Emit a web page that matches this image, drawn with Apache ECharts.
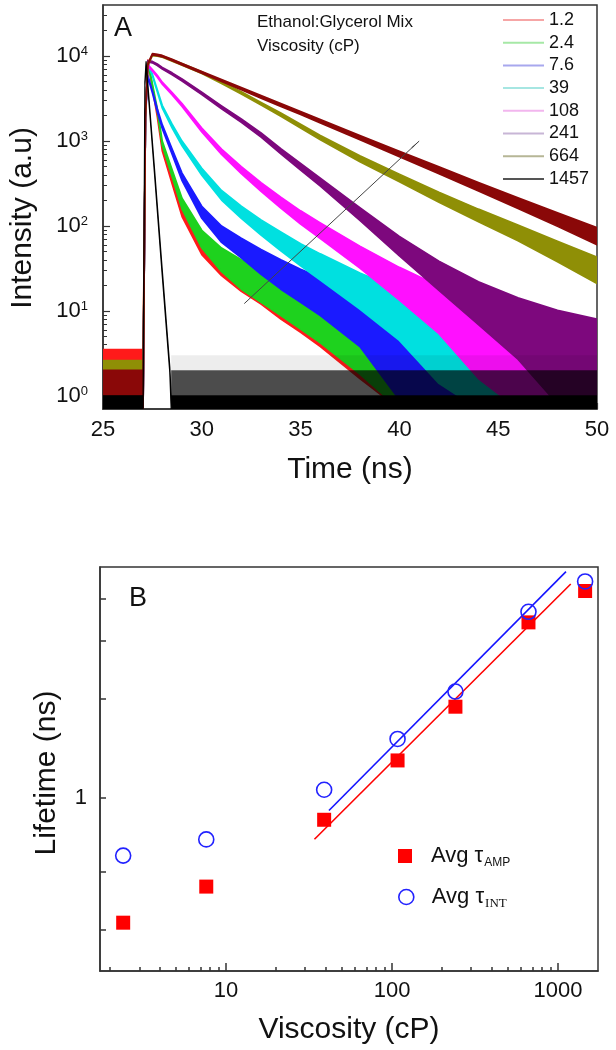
<!DOCTYPE html>
<html><head><meta charset="utf-8">
<script src="https://cdn.jsdelivr.net/npm/echarts@6/dist/echarts.min.js"></script>
<style>html,body{margin:0;padding:0;background:#fff}#c{width:616px;height:1050px}</style>
</head><body><div id="c"></div>
<script>
const FONT = '"Liberation Sans", Arial, sans-serif';

// ---------- Panel A: fluorescence decays (band = visible noise envelope, low/high) ----------
const timeNs = [25, 27.03, 27.15, 27.27, 27.5, 27.75, 28, 28.5, 29, 30, 31, 32, 33, 34, 35, 36, 38, 40, 42, 44, 46, 48, 50];
const viscosityLabels = ['1.2', '2.4', '7.6', '39', '108', '241', '664', '1457'];

const low_1_2  = [0.7, 0.7, 1910, 8610, 4170, 1910, 763, 313, 129, 46, 26, 17, 12, 8, 5.6, 3.8, 1.6, 0.7, 0.7, 0.7, 0.7, 0.7, 0.7];
const high_1_2 = [3.5, 3.5, 2090, 8990, 4430, 2090, 877, 387, 179, 78, 50, 37, 30, 24, 20, 16.6, 12, 8.4, 6.1, 4.7, 4.1, 4, 4];
const low_2_4  = [0.7, 0.7, 1910, 8320, 4460, 2200, 880, 380, 158, 55, 29, 18, 12.6, 8.8, 6.1, 4.2, 1.8, 0.7, 0.7, 0.7, 0.7, 0.7, 0.7];
const high_2_4 = [1.5, 1.5, 2090, 8680, 4740, 2400, 1000, 460, 212, 89, 55, 40, 31, 25, 20.7, 17.2, 12.4, 8.7, 6.3, 4.8, 4.3, 4, 4];
const low_7_6  = [0.7, 0.7, 1910, 5650, 3680, 2200, 1400, 695, 342, 123, 64, 42, 27, 18, 12.6, 8.8, 3.8, 0.9, 0.7, 0.7, 0.7, 0.7, 0.7];
const high_7_6 = [1.5, 1.5, 2090, 5950, 3920, 2400, 1560, 805, 420, 171, 100, 72, 53, 40, 31, 25, 16.6, 10.5, 6.8, 4.8, 4.3, 4, 4];
const low_39   = [0.7, 0.7, 1910, 7820, 5850, 3780, 2440, 1420, 880, 395, 202, 123, 78, 51, 34, 23, 10.5, 4.5, 1.4, 0.7, 0.7, 0.7, 0.7];
const high_39  = [1.5, 1.5, 2090, 8180, 6150, 4020, 2640, 1580, 1000, 479, 262, 171, 118, 85, 62, 47, 28, 17.9, 11.6, 7.7, 5.5, 4.5, 4.3];
const low_108  = [0.7, 0.7, 1910, 7620, 6640, 5650, 4660, 3480, 2560, 1280, 695, 414, 256, 162, 105, 71, 32, 13.4, 5.4, 1.6, 0.7, 0.7, 0.7];
const high_108 = [1.5, 1.5, 2090, 7980, 6960, 5950, 4940, 3720, 2760, 1420, 805, 500, 324, 218, 151, 109, 58, 32.6, 19.6, 12, 8, 5.8, 4.8];
const low_241  = [0.7, 0.7, 1910, 8510, 8320, 7720, 7030, 6040, 5100, 3530, 2400, 1660, 1110, 705, 455, 294, 116, 44.5, 17.4, 6.9, 2.7, 0.8, 0.7];
const high_241 = [1.5, 1.5, 2090, 8890, 8680, 8080, 7370, 6360, 5400, 3770, 2600, 1820, 1250, 815, 545, 366, 164, 75.5, 38.6, 22.1, 14.3, 10.2, 8];
const low_664  = [0.7, 0.7, 1910, 7820, 10100, 10000, 9700, 8710, 7820, 6240, 4760, 3580, 2650, 1960, 1420, 1034, 570, 332, 190, 112, 67, 38, 21];
const high_664 = [2.6, 2.6, 2090, 8180, 10500, 10400, 10100, 9090, 8180, 6560, 5040, 3820, 2850, 2140, 1580, 1166, 670, 408, 250, 158, 103, 66, 43];
const low_1457 = [0.7, 0.7, 1910, 7820, 10300, 10100, 9800, 8810, 7840, 6270, 5020, 4010, 3200, 2560, 2050, 1630, 1034, 654, 412, 258, 161, 99, 60];
const high_1457= [2, 2, 2090, 8180, 10700, 10500, 10200, 9190, 8200, 6590, 5300, 4270, 3440, 2760, 2230, 1790, 1166, 760, 498, 326, 215, 143, 96];

// instrument response (black)
const irfTime = [25, 27.03, 27.12, 27.18, 27.6, 28.0, 28.38, 28.45, 50];
const irfHigh = [1, 1, 5000, 8600, 490, 30, 2.2, 1, 1];
const irfLow  = [0.7, 0.7, 4500, 7800, 430, 26, 1.9, 0.7, 0.7];
// IRF background noise bands (dense 1-2 counts, sparse 2-3 counts)
const floorTime = [28.45, 50];
const floorLow  = [1, 1];
const floorHigh = [2, 2];
const sparseLow  = [2, 2];
const sparseHigh = [3, 3];

// arrow (direction of increasing viscosity)
const arrowTime = [32.15, 41.0];
const arrowCounts = [12.2, 1000];

const yTicksA = [1, 10, 100, 1000, 10000];
const yMinorA = [0.8, 0.9, 2, 3, 4, 5, 6, 7, 8, 9, 20, 30, 40, 50, 60, 70, 80, 90, 200, 300, 400, 500, 600, 700, 800, 900,
                 2000, 3000, 4000, 5000, 6000, 7000, 8000, 9000, 20000, 30000];

// ---------- Panel B: lifetime vs viscosity ----------
const viscosityCP = [2.4, 7.6, 39, 108, 241, 664, 1457];
const tauAmp = [0.42, 0.54, 0.86, 1.30, 1.89, 3.40, 4.23];
const tauInt = [0.67, 0.75, 1.06, 1.51, 2.10, 3.66, 4.52];
const fitAmpX = [34.1, 1194];
const fitAmpY = [0.751, 4.44];
const fitIntX = [41.7, 1117];
const fitIntY = [0.917, 4.84];
const xTicksB = [10, 100, 1000];
const xMinorB = [2, 3, 4, 5, 6, 7, 8, 9, 20, 30, 40, 50, 60, 70, 80, 90, 200, 300, 400, 500, 600, 700, 800, 900];
const yTicksB = [0.4, 0.6, 1, 2, 3, 4];
const yLabelsB = [1];

// ---------- styles ----------
const curveColors = ['#ff1a1a', '#1ed21e', '#1a1aff', '#00e0e0', '#ff10ff', '#7d087d', '#8f8f06', '#8a0808'];
const legendColors = ['#f6a6a6', '#a6e8a6', '#a8a8ee', '#a6e6e2', '#f2b6ee', '#c8b6d6', '#b6b696', '#555555'];
const lows = [low_1_2, low_2_4, low_7_6, low_39, low_108, low_241, low_664, low_1457];
const highs = [high_1_2, high_2_4, high_7_6, high_39, high_108, high_241, high_664, high_1457];

function bandSeries(name, xs, lo, hi, color, lw, z) {
  return {
    type: 'custom', name: name, xAxisIndex: 0, yAxisIndex: 0, clip: true, z: z || 2,
    silent: true,
    itemStyle: { color: color },
    data: xs.map((t, i) => [t, lo[i], hi[i]]),
    encode: { x: 0, y: [1, 2] },
    renderItem: function (params, api) {
      if (params.dataIndexInside !== 0) return null;
      const n = params.dataInsideLength;
      const top = [], bot = [];
      for (let j = 0; j < n; j++) {
        top.push(api.coord([api.value(0, j), api.value(2, j)]));
        bot.push(api.coord([api.value(0, j), api.value(1, j)]));
      }
      return {
        type: 'polygon',
        shape: { points: top.concat(bot.reverse()) },
        style: { fill: color, stroke: lw > 0 ? color : null, lineWidth: lw, lineJoin: 'round' }
      };
    }
  };
}

const series = [];
viscosityLabels.forEach((name, i) => {
  series.push(bandSeries(name, timeNs, lows[i], highs[i], curveColors[i], 1.6));
});
series.push(bandSeries('IRF', irfTime, irfLow, irfHigh, '#000000', 1.2, 3));
series.push(bandSeries('IRF noise', floorTime, floorLow, floorHigh, 'rgba(0,0,0,0.7)', 0, 3));
series.push(bandSeries('IRF sparse noise', floorTime, sparseLow, sparseHigh, 'rgba(0,0,0,0.07)', 0, 3));
series.push({
  type: 'line', name: 'arrow', xAxisIndex: 0, yAxisIndex: 0, data: [], silent: true,
  markLine: {
    silent: true, symbol: ['none', 'arrow'], symbolSize: [1, 11], label: { show: false },
    lineStyle: { color: '#444', width: 1, type: 'solid' },
    data: [[{ coord: [arrowTime[0], arrowCounts[0]] }, { coord: [arrowTime[1], arrowCounts[1]] }]]
  }
});

// Panel B series
series.push({
  type: 'line', name: 'fitAmp', xAxisIndex: 1, yAxisIndex: 2, symbol: 'none', silent: true, z: 2,
  lineStyle: { color: '#ff0000', width: 1.6 },
  data: fitAmpX.map((x, i) => [x, fitAmpY[i]])
});
series.push({
  type: 'line', name: 'fitInt', xAxisIndex: 1, yAxisIndex: 2, symbol: 'none', silent: true, z: 2,
  lineStyle: { color: '#1414ff', width: 1.6 },
  data: fitIntX.map((x, i) => [x, fitIntY[i]])
});
series.push({
  type: 'scatter', name: 'Avg τAMP', xAxisIndex: 1, yAxisIndex: 2, symbol: 'rect', symbolSize: 14, z: 3,
  itemStyle: { color: '#ff0000', opacity: 1 },
  data: viscosityCP.map((x, i) => [x, tauAmp[i]])
});
series.push({
  type: 'scatter', name: 'Avg τINT', xAxisIndex: 1, yAxisIndex: 2, symbol: 'circle', symbolSize: 15, z: 4,
  itemStyle: { color: 'rgba(255,255,255,0)', borderColor: '#2222ff', borderWidth: 1.6, opacity: 1 },
  data: viscosityCP.map((x, i) => [x, tauInt[i]])
});

const axisLineStyle = { show: true, onZero: false, lineStyle: { color: '#333', width: 1.5 } };
const labelBase = { color: '#111', fontFamily: FONT, fontSize: 22 };
const nameBase = { color: '#111', fontFamily: FONT, fontSize: 30 };

const option = {
  animation: false,
  backgroundColor: '#fff',
  textStyle: { fontFamily: FONT },
  grid: [
    { left: 101, top: 5, width: 496, height: 404, show: true, borderColor: '#333', borderWidth: 1.5, backgroundColor: 'transparent' },
    { left: 100, top: 567, width: 498, height: 404, show: true, borderColor: '#333', borderWidth: 1.5, backgroundColor: 'transparent' }
  ],
  xAxis: [
    {
      gridIndex: 0, type: 'value', position: 'bottom', min: 25, max: 50, interval: 5,
      axisLine: axisLineStyle, splitLine: { show: false },
      axisTick: { inside: true, length: 6, lineStyle: { color: '#333', width: 1.2 } },
      axisLabel: Object.assign({ margin: 10 }, labelBase),
      name: 'Time (ns)', nameLocation: 'middle', nameGap: 46, nameTextStyle: nameBase
    },
    {
      gridIndex: 1, type: 'log', position: 'bottom', min: 1.74, max: 1742,
      axisLine: axisLineStyle, splitLine: { show: false }, minorTick: { show: false },
      axisTick: { inside: true, length: 8, customValues: xTicksB, lineStyle: { color: '#333', width: 1.5 } },
      axisLabel: Object.assign({
        margin: 9, customValues: xTicksB, showMinLabel: true, showMaxLabel: true,
        formatter: function (v) { return String(Math.round(v)); }
      }, labelBase),
      name: 'Viscosity (cP)', nameLocation: 'middle', nameGap: 44, nameTextStyle: nameBase
    },
    {
      gridIndex: 1, type: 'log', position: 'bottom', min: 1.74, max: 1742,
      axisLine: { show: false, onZero: false }, splitLine: { show: false },
      axisTick: { inside: true, length: 4, customValues: xMinorB, lineStyle: { color: '#333', width: 1.5 } },
      axisLabel: { show: false }
    }
  ],
  yAxis: [
    {
      gridIndex: 0, type: 'log', position: 'left', min: 0.7, max: 40000,
      axisLine: axisLineStyle, splitLine: { show: false },
      axisTick: { inside: true, length: 7, customValues: yTicksA, lineStyle: { color: '#333', width: 1.2 } },
      axisLabel: Object.assign({
        margin: 15, customValues: yTicksA, showMinLabel: true, showMaxLabel: true, lineHeight: 22,
        formatter: function (v) { return '10{e|' + Math.round(Math.log10(v)) + '}'; },
        rich: { e: { fontSize: 13, lineHeight: 13, verticalAlign: 'top', fontFamily: FONT, color: '#111' } }
      }, labelBase),
      name: 'Intensity (a.u)', nameLocation: 'middle', nameGap: 65,
      nameTextStyle: Object.assign({ padding: [0, 22, 0, 0] }, nameBase)
    },
    {
      gridIndex: 0, type: 'log', position: 'left', min: 0.7, max: 40000,
      axisLine: { show: false, onZero: false }, splitLine: { show: false },
      axisTick: { inside: true, length: 4, customValues: yMinorA, lineStyle: { color: '#333', width: 1 } },
      axisLabel: { show: false }
    },
    {
      gridIndex: 1, type: 'log', position: 'left', min: 0.3, max: 5,
      axisLine: axisLineStyle, splitLine: { show: false },
      axisTick: { inside: true, length: 6, customValues: yTicksB, lineStyle: { color: '#333', width: 1.5 } },
      axisLabel: Object.assign({ margin: 13, customValues: yLabelsB, showMinLabel: true, showMaxLabel: true }, labelBase),
      name: 'Lifetime (ns)', nameLocation: 'middle', nameGap: 38,
      nameTextStyle: Object.assign({ padding: [0, 8, 0, 0] }, nameBase)
    }
  ],
  legend: [
    {
      orient: 'vertical', left: 503, top: 11, padding: 0, itemWidth: 41, itemHeight: 2, itemGap: 4.7,
      icon: 'rect', selectedMode: false,
      textStyle: { fontSize: 18, lineHeight: 18, color: '#111', fontFamily: FONT },
      data: viscosityLabels.map((n, i) => ({ name: n, itemStyle: { color: legendColors[i], borderWidth: 0 } }))
    },
    {
      left: 398, top: 835, padding: 0, itemWidth: 14, itemHeight: 14, selectedMode: false,
      data: [{ name: 'Avg τAMP', icon: 'rect', itemStyle: { color: '#ff0000' } }],
      formatter: function () { return 'Avg τ{s|AMP}'; },
      textStyle: {
        fontSize: 22, lineHeight: 26, color: '#111', fontFamily: FONT, padding: [0, 0, 0, 14],
        rich: { s: { fontSize: 12, lineHeight: 12, padding: [22, 0, 0, 1], verticalAlign: 'bottom', fontFamily: FONT, color: '#111' } }
      }
    },
    {
      left: 398, top: 875, padding: 0, itemWidth: 15, itemHeight: 15, selectedMode: false,
      data: [{ name: 'Avg τINT', icon: 'circle', itemStyle: { color: 'rgba(255,255,255,0)', borderColor: '#2222ff', borderWidth: 1.6 } }],
      formatter: function () { return 'Avg τ{s|INT}'; },
      textStyle: {
        fontSize: 22, lineHeight: 26, color: '#111', fontFamily: FONT, padding: [0, 0, 0, 13],
        rich: { s: { fontSize: 13, lineHeight: 13, padding: [22, 0, 0, 1], verticalAlign: 'bottom', fontFamily: '"Liberation Serif", "Times New Roman", serif', color: '#111' } }
      }
    }
  ],
  graphic: [
    { type: 'text', left: 114, top: 15, style: { text: 'A', fontSize: 27, fontFamily: FONT, fill: '#111' } },
    { type: 'text', left: 257, top: 14, style: { text: 'Ethanol:Glycerol Mix', fontSize: 17, fontFamily: FONT, fill: '#111' } },
    { type: 'text', left: 257, top: 38, style: { text: 'Viscosity (cP)', fontSize: 17, fontFamily: FONT, fill: '#111' } },
    { type: 'text', left: 129, top: 585, style: { text: 'B', fontSize: 27, fontFamily: FONT, fill: '#111' } }
  ],
  series: series
};

const chart = echarts.init(document.getElementById('c'), null, { renderer: 'canvas' });
chart.setOption(option);
</script>
</body></html>
